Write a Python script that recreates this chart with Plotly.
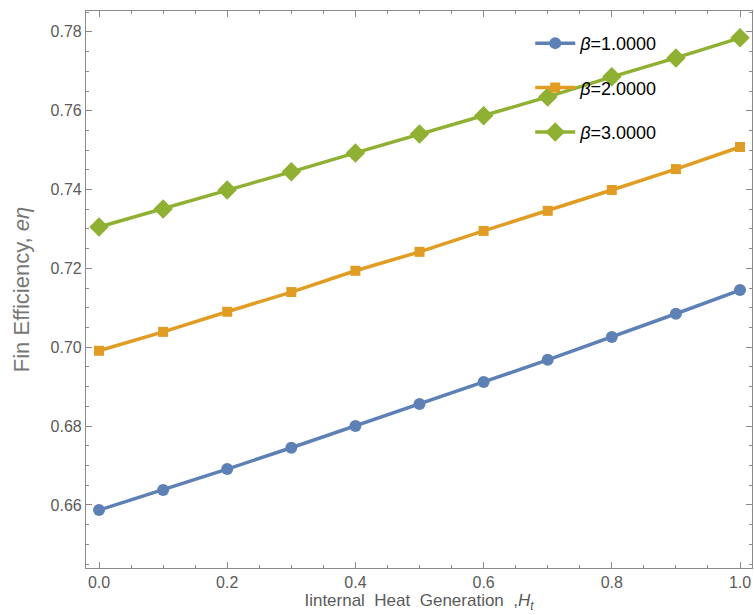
import plotly.graph_objects as go

x_vals = [0.0, 0.1, 0.2, 0.3, 0.4, 0.5, 0.6, 0.7, 0.8, 0.9, 1.0]
beta1 = [0.6587, 0.6638, 0.6691, 0.6745, 0.6800, 0.6856, 0.6912, 0.6968, 0.7026, 0.7085, 0.7145]
beta2 = [0.6991, 0.7039, 0.7090, 0.7140, 0.7194, 0.7242, 0.7295, 0.7346, 0.7399, 0.7452, 0.7508]
beta3 = [0.7305, 0.7351, 0.7399, 0.7445, 0.7493, 0.7541, 0.7587, 0.7635, 0.7686, 0.7734, 0.7785]
names = ["<i>β</i>=1.0000", "<i>β</i>=2.0000", "<i>β</i>=3.0000"]
colors = ["#5E81B5", "#E19C24", "#8FB032"]
symbols = ["circle", "square", "diamond"]
sizes = [12, 10, 15]

FONT = "Liberation Sans, Arial, sans-serif"

fig = go.Figure()
for i, ys in enumerate([beta1, beta2, beta3]):
    fig.add_trace(go.Scatter(
        x=x_vals, y=ys, mode="lines+markers", name=names[i],
        legendgroup=f"g{i}",
        line=dict(color=colors[i], width=3.5),
        marker=dict(symbol=symbols[i], size=sizes[i], color=colors[i]),
    ))

axis_common = dict(
    showgrid=False, zeroline=False, showline=True, linecolor="#8a8a8a", linewidth=1.2,
    mirror="ticks", ticks="inside", ticklen=6, tickwidth=1, tickcolor="#8a8a8a",
    tickfont=dict(family=FONT, size=16, color="#5a5a5a"),
    automargin=False,
)

fig.update_layout(
    width=754, height=615,
    margin=dict(l=86, r=2, t=11, b=47),
    plot_bgcolor="white", paper_bgcolor="white",
    showlegend=True,
    legend=dict(
        x=0.667, y=0.975, xanchor="left", yanchor="top",
        font=dict(family=FONT, size=18, color="black"),
        bgcolor="rgba(0,0,0,0)", tracegroupgap=18, traceorder="grouped",
        itemwidth=40,
    ),
    xaxis=dict(
        range=[-0.0203, 1.0187], tickvals=[0.0, 0.2, 0.4, 0.6, 0.8, 1.0],
        ticktext=["0.0", "0.2", "0.4", "0.6", "0.8", "1.0"],
        minor=dict(dtick=0.05, ticks="inside", ticklen=3, tickcolor="#8a8a8a"),
        title=dict(text="Iinternal&nbsp;&nbsp;Heat&nbsp;&nbsp;Generation&nbsp;&nbsp;,<i>H</i><sub><i>t</i></sub>",
                   font=dict(family=FONT, size=17, color="#5a5a5a"), standoff=0),
        **axis_common,
    ),
    yaxis=dict(
        range=[0.6440, 0.7853], tickvals=[0.66, 0.68, 0.70, 0.72, 0.74, 0.76, 0.78],
        ticktext=["0.66", "0.68", "0.70", "0.72", "0.74", "0.76", "0.78"],
        minor=dict(dtick=0.005, tick0=0.66, ticks="inside", ticklen=3, tickcolor="#8a8a8a"),
        title=dict(text="Fin Efficiency, <i>eη</i>",
                   font=dict(family=FONT, size=22, color="#777777"), standoff=14),
        **axis_common,
    ),
)

# remove the page's default body margin so the figure fills the window exactly
fig.write_html(
    "out.html",
    config={"displayModeBar": False},
    post_script="document.body.style.margin='0';document.body.style.overflow='hidden';",
)
